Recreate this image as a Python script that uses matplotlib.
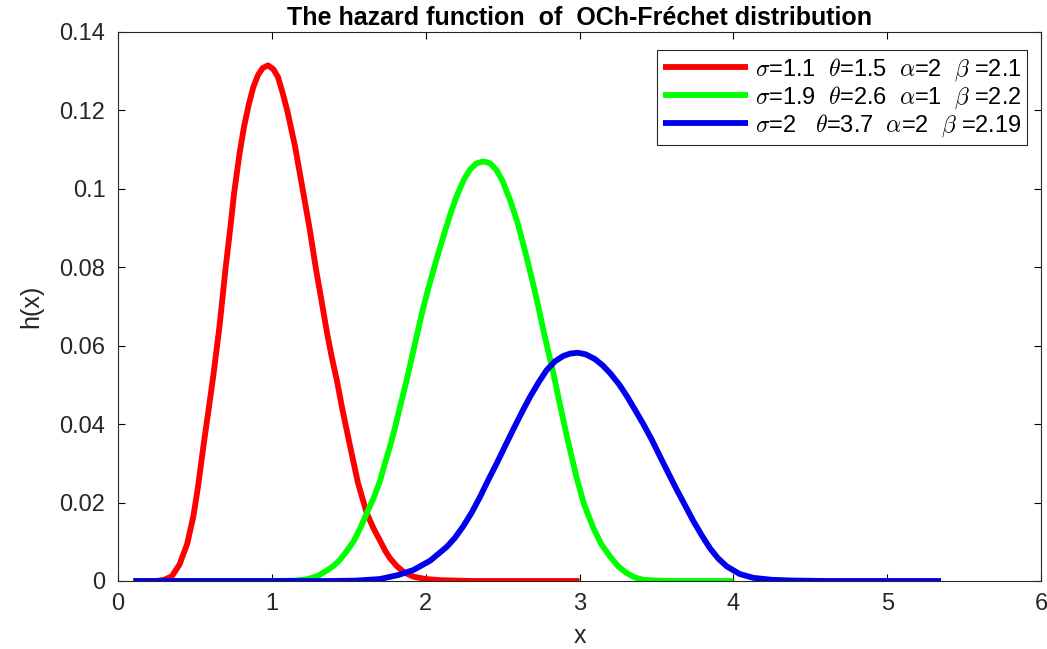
import matplotlib
matplotlib.use("Agg")
import matplotlib.pyplot as plt

plt.rcParams['font.family'] = ['Liberation Sans', 'DejaVu Sans']
plt.rcParams['mathtext.fontset'] = 'cm'

# values
x_red = [0.1, 0.25, 0.30, 0.35, 0.40, 0.45, 0.49, 0.52, 0.555, 0.59, 0.62, 0.66, 0.70,
         0.73, 0.755, 0.79, 0.82, 0.85, 0.88, 0.91, 0.94, 0.975, 1.01, 1.04, 1.07, 1.10,
         1.15, 1.20, 1.245, 1.285, 1.325, 1.36, 1.39, 1.422, 1.46, 1.508, 1.56, 1.617,
         1.66, 1.703, 1.74, 1.768, 1.812, 1.86, 1.92, 2.0, 2.1, 2.3, 3.0]
y_red = [0, 0, 0.0003, 0.0012, 0.0042, 0.0095, 0.0165, 0.024, 0.0343, 0.044, 0.0525,
         0.065, 0.080, 0.090, 0.099, 0.109, 0.116, 0.1215, 0.126, 0.129, 0.1308, 0.1315,
         0.1305, 0.1285, 0.1245, 0.120, 0.111, 0.100, 0.090, 0.080, 0.071, 0.063, 0.057,
         0.0513, 0.0435, 0.0345, 0.025, 0.0173, 0.0135, 0.0103, 0.0075, 0.0058, 0.0038,
         0.0022, 0.0011, 0.0005, 0.0002, 0, 0]

x_green = [0.1, 1.0, 1.15, 1.227, 1.30, 1.35, 1.40, 1.443, 1.49, 1.53, 1.575, 1.617,
           1.66, 1.703, 1.735, 1.768, 1.80, 1.834, 1.877, 1.91, 1.942, 1.98, 2.02, 2.07,
           2.12, 2.16, 2.2, 2.25, 2.29, 2.33, 2.375, 2.42, 2.46, 2.50, 2.55, 2.60, 2.65,
           2.70, 2.735, 2.765, 2.80, 2.83, 2.87, 2.917, 2.95, 2.98, 3.03, 3.09, 3.14,
           3.199, 3.25, 3.307, 3.36, 3.415, 3.5, 3.6, 4.0]
y_green = [0, 0, 0.0001, 0.0004, 0.0013, 0.0025, 0.0038, 0.0054, 0.0078, 0.010, 0.0135,
           0.0173, 0.021, 0.0255, 0.030, 0.0343, 0.039, 0.0445, 0.0513, 0.057, 0.0625,
           0.069, 0.075, 0.082, 0.0885, 0.0935, 0.098, 0.1025, 0.105, 0.1065, 0.107,
           0.1065, 0.1048, 0.102, 0.097, 0.091, 0.0835, 0.0755, 0.0695, 0.064, 0.058,
           0.053, 0.0455, 0.037, 0.0315, 0.0265, 0.0195, 0.0135, 0.0095, 0.0062, 0.0038,
           0.002, 0.0009, 0.0003, 0.0001, 0, 0]

x_blue = [0.1, 1.4, 1.55, 1.703, 1.82, 1.92, 2.03, 2.137, 2.19, 2.245, 2.30, 2.354, 2.41,
          2.462, 2.515, 2.57, 2.625, 2.679, 2.735, 2.787, 2.84, 2.895, 2.94, 2.99, 3.04,
          3.1, 3.15, 3.199, 3.26, 3.31, 3.36, 3.415, 3.47, 3.524, 3.58, 3.633, 3.69,
          3.741, 3.80, 3.849, 3.90, 3.958, 4.04, 4.13, 4.25, 4.4, 4.6, 5.35]
y_blue = [0, 0, 0.0001, 0.0005, 0.0015, 0.0028, 0.0052, 0.0087, 0.011, 0.014, 0.0175,
          0.0215, 0.026, 0.030, 0.0343, 0.0387, 0.043, 0.047, 0.0507, 0.0538, 0.056,
          0.0574, 0.058, 0.0582, 0.0578, 0.0566, 0.055, 0.053, 0.050, 0.047, 0.0437,
          0.040, 0.036, 0.0317, 0.0273, 0.0232, 0.019, 0.0152, 0.0113, 0.0083, 0.0058,
          0.0037, 0.0018, 0.0008, 0.0003, 0.0001, 0, 0]

labels = [r"$\sigma$=1.1  $\theta$=1.5  $\alpha$=2  $\beta$ =2.1",
          r"$\sigma$=1.9  $\theta$=2.6  $\alpha$=1  $\beta$ =2.2",
          r"$\sigma$=2   $\theta$=3.7  $\alpha$=2  $\beta$ =2.19"]
xticks = [0, 1, 2, 3, 4, 5, 6]
yticks = [0, 0.02, 0.04, 0.06, 0.08, 0.1, 0.12, 0.14]
ytick_labels = ["0", "0.02", "0.04", "0.06", "0.08", "0.1", "0.12", "0.14"]


def main():
    fig = plt.figure(figsize=(10.47, 6.49), dpi=100)
    ax = fig.add_axes([0.1127, 0.1048, 0.8816, 0.8459])

    colors = ['#ff0000', '#00ff00', '#0000ee']
    series = [(x_red, y_red), (x_green, y_green), (x_blue, y_blue)]
    for (xs, ys), c, lab in zip(series, colors, labels):
        ax.plot(xs, ys, color=c, lw=4.2, label=lab,
                solid_joinstyle='round', solid_capstyle='butt')

    ax.set_xlim(0, 6)
    ax.set_ylim(0, 0.14)
    ax.set_xticks(xticks)
    ax.set_yticks(yticks)
    ax.set_yticklabels(ytick_labels)
    ax.tick_params(direction='in', length=5, width=0.8, labelsize=17,
                   labelcolor='#262626', top=True, right=True, pad=9)
    for s in ax.spines.values():
        s.set_linewidth(0.8)
        s.set_color('#262626')

    ax.set_xlabel("x", fontsize=18, color='#262626', labelpad=6)
    ax.set_ylabel("h(x)", fontsize=18, color='#262626', labelpad=12)
    ax.set_title("The hazard function  of  OCh-Fréchet distribution",
                 fontsize=18, fontweight='bold', pad=5)

    leg = ax.legend(loc='upper right', fontsize=17, handlelength=3.6,
                    fancybox=False, framealpha=1, borderpad=0.25,
                    labelspacing=0.05, handletextpad=0.3, borderaxespad=0,
                    bbox_to_anchor=(0.985, 0.967))
    leg.get_frame().set_edgecolor('#262626')
    leg.get_frame().set_linewidth(0.8)

    fig.savefig("out.png", dpi=100, facecolor='white')
    plt.close(fig)


main()
